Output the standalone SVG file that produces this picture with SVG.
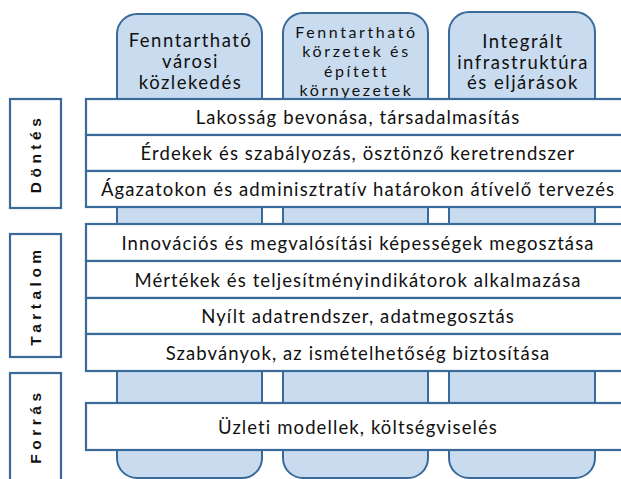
<svg xmlns="http://www.w3.org/2000/svg" width="621" height="479" viewBox="0 0 621 479">
  <style>
    .col { fill: #c9dcef; stroke: #3a6a9a; stroke-width: 2; }
    .row { fill: #ffffff; stroke: #3a6a9a; stroke-width: 2.2; }
    .lbl { fill: #ffffff; stroke: #3a6a9a; stroke-width: 2.2; }
    .t { font-family: Lato, "Liberation Sans", sans-serif; font-size: 18.5px; letter-spacing: 1.1px; fill: #111; text-anchor: middle; dominant-baseline: central; }
    .h { font-family: Lato, "Liberation Sans", sans-serif; font-size: 18.5px; letter-spacing: 1.5px; fill: #111; text-anchor: middle; dominant-baseline: central; }
    .h2 { font-size: 16px; letter-spacing: 2.6px; }
    .v { font-family: "Liberation Sans", sans-serif; font-size: 15.5px; font-weight: bold; letter-spacing: 4.5px; fill: #111; text-anchor: middle; dominant-baseline: central; }
  </style>
  <rect width="621" height="479" fill="#ffffff"/>

  <!-- vertical pillars -->
  <g id="pillar-mobility">
    <rect class="col" x="117" y="14" width="145" height="464" rx="20"/>
    <text class="h" x="190.5" y="40">Fenntartható</text>
    <text class="h" x="190.5" y="61">városi</text>
    <text class="h" x="190.5" y="82">közlekedés</text>
  </g>
  <g id="pillar-districts">
    <rect class="col" x="283" y="13" width="145" height="465" rx="20"/>
    <text class="h h2" x="356.5" y="31">Fenntartható</text>
    <text class="h h2" x="356.5" y="50.5">körzetek és</text>
    <text class="h h2" x="356.5" y="70">épített</text>
    <text class="h h2" x="356.5" y="89.5">környezetek</text>
  </g>
  <g id="pillar-infrastructure">
    <rect class="col" x="449" y="12" width="146" height="466" rx="20"/>
    <text class="h" x="523" y="41">Integrált</text>
    <text class="h" x="523" y="62">infrastruktúra</text>
    <text class="h" x="523" y="82">és eljárások</text>
  </g>

  <!-- section labels -->
  <g id="label-dontes">
    <rect class="lbl" x="10" y="99" width="51" height="109"/>
    <text class="v" transform="translate(35.5 153.5) rotate(-90)">Döntés</text>
  </g>
  <g id="label-tartalom">
    <rect class="lbl" x="10" y="234" width="51" height="123"/>
    <text class="v" transform="translate(35.5 295.5) rotate(-90)">Tartalom</text>
  </g>
  <g id="label-forras">
    <rect class="lbl" x="10" y="373" width="51" height="112"/>
    <text class="v" transform="translate(35.5 426) rotate(-90)">Forrás</text>
  </g>

  <!-- horizontal bands -->
  <g id="band-dontes">
    <rect class="row" x="86" y="99" width="545" height="36"/>
    <rect class="row" x="86" y="135" width="545" height="36"/>
    <rect class="row" x="86" y="171" width="545" height="36"/>
    <text class="t" x="358" y="117">Lakosság bevonása, társadalmasítás</text>
    <text class="t" x="358" y="153">Érdekek és szabályozás, ösztönző keretrendszer</text>
    <text class="t" x="358" y="189">Ágazatokon és adminisztratív határokon átívelő tervezés</text>
  </g>
  <g id="band-tartalom">
    <rect class="row" x="86" y="224" width="545" height="37"/>
    <rect class="row" x="86" y="261" width="545" height="37"/>
    <rect class="row" x="86" y="298" width="545" height="36"/>
    <rect class="row" x="86" y="334" width="545" height="37"/>
    <text class="t" x="358" y="242.5">Innovációs és megvalósítási képességek megosztása</text>
    <text class="t" x="358" y="279.5">Mértékek és teljesítményindikátorok alkalmazása</text>
    <text class="t" x="358" y="316">Nyílt adatrendszer, adatmegosztás</text>
    <text class="t" x="358" y="352.5">Szabványok, az ismételhetőség biztosítása</text>
  </g>
  <g id="band-forras">
    <rect class="row" x="86" y="403" width="545" height="47"/>
    <text class="t" x="358" y="426.5">Üzleti modellek, költségviselés</text>
  </g>

  <g id="connectors"/>
</svg>
